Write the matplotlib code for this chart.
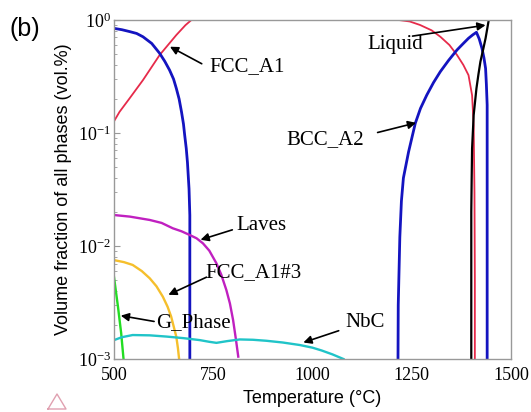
import matplotlib
matplotlib.use("Agg")
import matplotlib.pyplot as plt
from matplotlib.ticker import LogLocator, FixedLocator, NullFormatter

plt.rcParams["mathtext.fontset"] = "custom"
plt.rcParams["mathtext.rm"] = "Liberation Serif"

# phase fractions (temperature in C, fraction)
fcc_T = [500, 514, 539, 573, 615, 657, 680, 695, 1217, 1245, 1271, 1300, 1322, 1345,
         1364, 1380, 1393, 1402, 1406, 1408, 1409, 1409]
fcc_v = [0.127, 0.154, 0.202, 0.294, 0.49, 0.736, 0.9, 1.0, 1.0, 0.97, 0.903, 0.81, 0.711, 0.6,
         0.49, 0.4, 0.325, 0.216, 0.117, 0.03, 0.005, 0.0005]

bcc_lo_T = [500, 520, 539, 557, 573, 595, 615, 628, 640, 650, 657, 664, 670, 675, 678, 682, 685, 689, 691, 691]
bcc_lo_v = [0.843, 0.82, 0.79, 0.76, 0.71, 0.62, 0.507, 0.43, 0.36, 0.3, 0.248, 0.2, 0.154, 0.12,
            0.096, 0.073, 0.055, 0.032, 0.0187, 0.0005]

bcc_hi_T = [1215, 1216, 1220, 1224, 1229, 1242, 1259, 1272, 1288, 1305, 1322, 1343, 1364, 1380, 1393,
            1404, 1413, 1420, 1427, 1432, 1436, 1438, 1440, 1440]
bcc_hi_v = [0.0005, 0.003, 0.012, 0.025, 0.04, 0.068, 0.122, 0.165, 0.217, 0.28, 0.349, 0.44, 0.543,
            0.62, 0.689, 0.74, 0.778, 0.68, 0.56, 0.46, 0.373, 0.27, 0.177, 0.0005]

liq_T = [1400, 1400, 1401, 1402, 1406, 1413, 1418, 1423, 1430, 1436, 1444]
liq_v = [0.0005, 0.02, 0.04, 0.073, 0.144, 0.248, 0.33, 0.428, 0.55, 0.689, 1.0]

laves_T = [500, 540, 590, 620, 648, 670, 691, 708, 724, 740, 758, 770, 783, 792, 800, 807, 813]
laves_v = [0.0188, 0.0182, 0.017, 0.016, 0.01435, 0.0135, 0.0125, 0.0117, 0.01056, 0.0091, 0.00703,
           0.0056, 0.00408, 0.0031, 0.00221, 0.0015, 0.00105]

fcc3_T = [500, 525, 547, 570, 590, 607, 623, 635, 644, 651, 657, 661, 664]
fcc3_v = [0.0075, 0.0072, 0.0068, 0.006, 0.00518, 0.0044, 0.00356, 0.0029, 0.00237, 0.0019, 0.00157,
          0.00125, 0.001]

g_T = [500, 510, 518, 524]
g_v = [0.0053, 0.0029, 0.0017, 0.001]

nbc_T = [500, 520, 547, 590, 632, 675, 716, 740, 758, 785, 817, 850, 884, 925, 968, 1000, 1023, 1050, 1078]
nbc_v = [0.00147, 0.00156, 0.00163, 0.00162, 0.00158, 0.00153, 0.00147, 0.00142, 0.00139, 0.00144,
         0.00149, 0.00148, 0.00145, 0.0014, 0.00133, 0.00126, 0.00119, 0.0011, 0.001]

fig = plt.figure(figsize=(5.31, 4.12), dpi=100)
ax = fig.add_axes([0.2147, 0.1286, 0.7476, 0.8229])

ax.plot(fcc_T, fcc_v, color="#e62a4a", lw=1.3)
ax.plot(bcc_lo_T, bcc_lo_v, color="#1414c0", lw=2)
ax.plot(bcc_hi_T, bcc_hi_v, color="#1414c0", lw=2)
ax.plot(liq_T, liq_v, color="black", lw=1.6)
ax.plot(laves_T, laves_v, color="#c020c0", lw=1.7)
ax.plot(fcc3_T, fcc3_v, color="#f5bf2c", lw=1.7)
ax.plot(g_T, g_v, color="#22dd22", lw=1.7)
ax.plot(nbc_T, nbc_v, color="#20c4c8", lw=1.7)

ax.set_yscale("log")
ax.set_xlim(500, 1500)
ax.set_ylim(1e-3, 1)

ax.set_xticks([500, 750, 1000, 1250, 1500])
ax.set_xticklabels(["500", "750", "1000", "1250", "1500"], fontfamily="Liberation Serif", fontsize=13)
ax.yaxis.set_major_locator(FixedLocator([1e-3, 1e-2, 1e-1, 1]))
ax.set_yticklabels([r"$\mathregular{10^{-3}}$", r"$\mathregular{10^{-2}}$",
                    r"$\mathregular{10^{-1}}$", r"$\mathregular{10^{0}}$"],
                   fontfamily="Liberation Serif", fontsize=13)
ax.yaxis.set_minor_locator(LogLocator(base=10, subs=range(2, 10)))
ax.yaxis.set_minor_formatter(NullFormatter())
ax.tick_params(axis="x", length=0, pad=6)
ax.tick_params(axis="y", which="both", direction="in", color="#999999", pad=2)
ax.tick_params(axis="y", which="major", length=4)
ax.tick_params(axis="y", which="minor", length=2.5)
for s in ax.spines.values():
    s.set_color("#999999")
    s.set_linewidth(1.0)

ax.set_xlabel("Temperature (°C)", fontfamily="Liberation Sans", fontsize=13, labelpad=4)
ax.set_ylabel("Volume fraction of all phases (vol.%)", fontfamily="Liberation Sans", fontsize=13)
ax.yaxis.set_label_coords(-0.105, 0.5)

arrow = dict(arrowstyle="-|>", color="black", lw=1.2, mutation_scale=12, shrinkA=0, shrinkB=0)
tfont = dict(fontfamily="Liberation Serif", fontsize=15, va="center")

ax.annotate("", xy=(641, 0.58), xytext=(721, 0.41), arrowprops=arrow)
ax.text(740, 0.39, "FCC_A1", **tfont)
ax.annotate("", xy=(1436, 0.90), xytext=(1252, 0.72), arrowprops=arrow)
ax.text(1138, 0.61, "Liquid", **tfont)
ax.annotate("", xy=(1261, 0.123), xytext=(1164, 0.101), arrowprops=arrow)
ax.text(935, 0.0875, "BCC_A2", **tfont)
ax.annotate("", xy=(718, 0.01135), xytext=(798, 0.0139), arrowprops=arrow)
ax.text(807, 0.0152, "Laves", **tfont)
ax.annotate("", xy=(637, 0.0037), xytext=(733, 0.0053), arrowprops=arrow)
ax.text(731, 0.00586, "FCC_A1#3", **tfont)
ax.annotate("", xy=(517, 0.00242), xytext=(601, 0.00215), arrowprops=arrow)
ax.text(607, 0.00208, "G_Phase", **tfont)
ax.annotate("", xy=(977, 0.0014), xytext=(1066, 0.00178), arrowprops=arrow)
ax.text(1083, 0.00211, "NbC", **tfont)

fig.text(0.017, 0.93, "(b)", fontfamily="Liberation Sans", fontsize=18, va="center")

# faint logo mark in the lower-left corner
lx = [48, 57, 66, 48]
ly = [409, 394, 409, 409]
fig.lines.append(plt.Line2D([x / 531 for x in lx], [1 - y / 412 for y in ly],
                            transform=fig.transFigure, color="#e0a0b0", lw=1))

fig.savefig("out.png", dpi=100)
